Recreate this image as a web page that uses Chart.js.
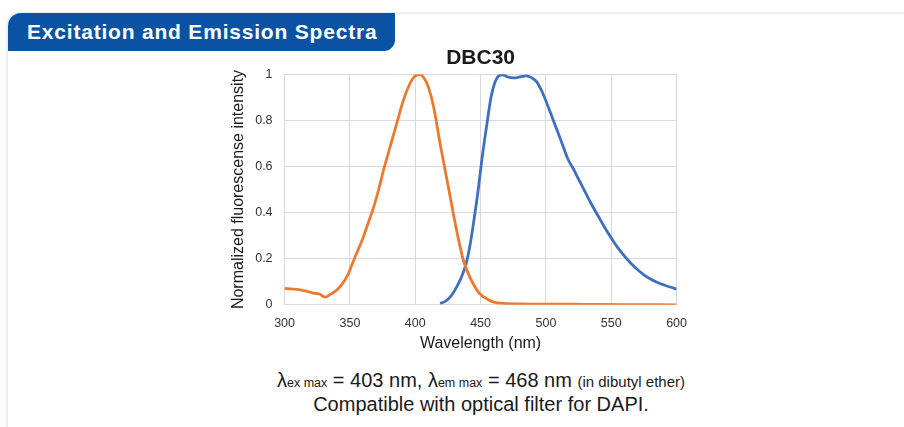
<!DOCTYPE html>
<html>
<head>
<meta charset="utf-8">
<script src="https://cdn.jsdelivr.net/npm/chart.js@4.4.0/dist/chart.umd.min.js"></script>
<style>
  html, body { margin: 0; padding: 0; background: #fff; }
  body { width: 904px; height: 427px; position: relative; overflow: hidden; font-family: "Liberation Sans", Arial, sans-serif; }
  #frame { position: absolute; left: 6px; top: 12px; width: 910px; height: 420px;
    border-top: 2px solid #e6eff8; border-left: 2px solid #e6eff8; border-top-left-radius: 14px; }
  #tab { position: absolute; left: 8px; top: 13px; width: 387px; height: 38px; background: #0a53a3;
    border-radius: 13px 0 11px 0; color: #fff; font-weight: bold; font-size: 21px; letter-spacing: 0.8px;
    line-height: 38px; padding-left: 19px; box-sizing: border-box; white-space: nowrap; }
  #wrap { position: absolute; left: 212px; top: 40px; width: 486px; height: 313px; }
  #note { position: absolute; left: 0; width: 962px; top: 370px; text-align: center; color: #1a1a1a; font-size: 20px; line-height: 21px; }
  .sub { font-size: 12.5px; }
  .small { font-size: 15px; }
</style>
</head>
<body>
<div id="frame"></div>
<div id="tab">Excitation and Emission Spectra</div>
<div id="wrap"><canvas id="spectra"></canvas></div>
<div id="note">
  λ<span class="sub">ex max</span> = 403 nm, λ<span class="sub">em max</span> = 468 nm <span class="small">(in dibutyl ether)</span><br>
  Compatible with optical filter for DAPI.
</div>
<script>
// Excitation spectrum (orange)
const exWavelength = [300, 305, 311, 316, 322, 327, 331, 335, 340, 344, 348, 352, 356, 360, 364, 368, 372, 376, 380, 386, 390, 394, 398, 401, 404, 407, 410, 414, 419, 422, 426, 430, 434, 437, 441, 445, 449, 455, 460, 468, 480, 500, 530, 560, 600];
const exIntensity = [0.071, 0.069, 0.066, 0.060, 0.051, 0.046, 0.033, 0.045, 0.064, 0.090, 0.125, 0.180, 0.235, 0.290, 0.355, 0.420, 0.500, 0.590, 0.670, 0.790, 0.870, 0.935, 0.980, 0.996, 0.998, 0.980, 0.945, 0.860, 0.700, 0.610, 0.490, 0.370, 0.260, 0.190, 0.130, 0.085, 0.050, 0.025, 0.012, 0.006, 0.004, 0.003, 0.002, 0.001, 0.000];

// Emission spectrum (blue)
const emWavelength = [419, 423, 427, 431, 435, 439, 442, 445, 448, 451, 455, 458, 461, 464, 467, 470, 473, 477, 481, 485, 489, 493, 497, 501, 505, 509, 513, 517, 521, 525, 530, 535, 540, 545, 550, 555, 560, 565, 570, 575, 580, 585, 590, 595, 600];
const emIntensity = [0.006, 0.015, 0.035, 0.070, 0.115, 0.180, 0.260, 0.370, 0.490, 0.630, 0.790, 0.900, 0.965, 0.993, 0.997, 0.990, 0.985, 0.984, 0.990, 0.993, 0.985, 0.967, 0.925, 0.870, 0.810, 0.750, 0.690, 0.630, 0.590, 0.545, 0.490, 0.435, 0.385, 0.335, 0.290, 0.248, 0.212, 0.180, 0.153, 0.130, 0.112, 0.098, 0.087, 0.077, 0.068];

const xTicks = [300, 350, 400, 450, 500, 550, 600];
const yTicks = [0, 0.2, 0.4, 0.6, 0.8, 1];

const toPoints = (xs, ys) => xs.map((x, i) => ({ x: x, y: ys[i] }));

const tickFont = { family: '"Liberation Sans", Arial, sans-serif', size: 12.5 };
const titleFont = { family: '"Liberation Sans", Arial, sans-serif', size: 16 };

new Chart(document.querySelector('#spectra'), {
  type: 'line',
  data: {
    datasets: [{
      label: 'Excitation',
      data: toPoints(exWavelength, exIntensity),
      borderColor: '#ea7a2f',
      borderWidth: 2.8,
      pointRadius: 0,
      cubicInterpolationMode: 'monotone'
    }, {
      label: 'Emission',
      data: toPoints(emWavelength, emIntensity),
      borderColor: '#3f6fbf',
      borderWidth: 2.8,
      pointRadius: 0,
      cubicInterpolationMode: 'monotone'
    }]
  },
  options: {
    responsive: true,
    maintainAspectRatio: false,
    animation: false,
    layout: { padding: { left: 17, right: 12, top: 0, bottom: 0 } },
    scales: {
      x: {
        type: 'linear',
        min: 300,
        max: 600,
        afterBuildTicks: (axis) => { axis.ticks = xTicks.map((v) => ({ value: v })); },
        ticks: { color: '#333', font: tickFont, maxRotation: 0, padding: 11, callback: (v) => String(v) },
        grid: { color: '#d9d9d9', drawTicks: false },
        border: { color: '#d9d9d9' },
        title: { display: true, text: 'Wavelength (nm)', color: '#1a1a1a', font: titleFont, padding: { top: -8, bottom: 0 } }
      },
      y: {
        min: 0,
        max: 1,
        afterBuildTicks: (axis) => { axis.ticks = yTicks.map((v) => ({ value: v })); },
        ticks: { color: '#333', font: tickFont, padding: 12, callback: (v) => String(v) },
        grid: { color: '#d9d9d9', drawTicks: false },
        border: { color: '#d9d9d9' },
        title: { display: true, text: 'Normalized fluorescense intensity', color: '#1a1a1a', font: titleFont, padding: { top: 0, bottom: -5 } }
      }
    },
    plugins: {
      legend: { display: false },
      tooltip: { enabled: false },
      title: {
        display: true,
        fullSize: false,
        text: 'DBC30',
        color: '#1a1a1a',
        font: { family: '"Liberation Sans", Arial, sans-serif', size: 21, weight: 'bold' },
        padding: { top: 6, bottom: 3 }
      }
    }
  }
});
</script>
</body>
</html>
